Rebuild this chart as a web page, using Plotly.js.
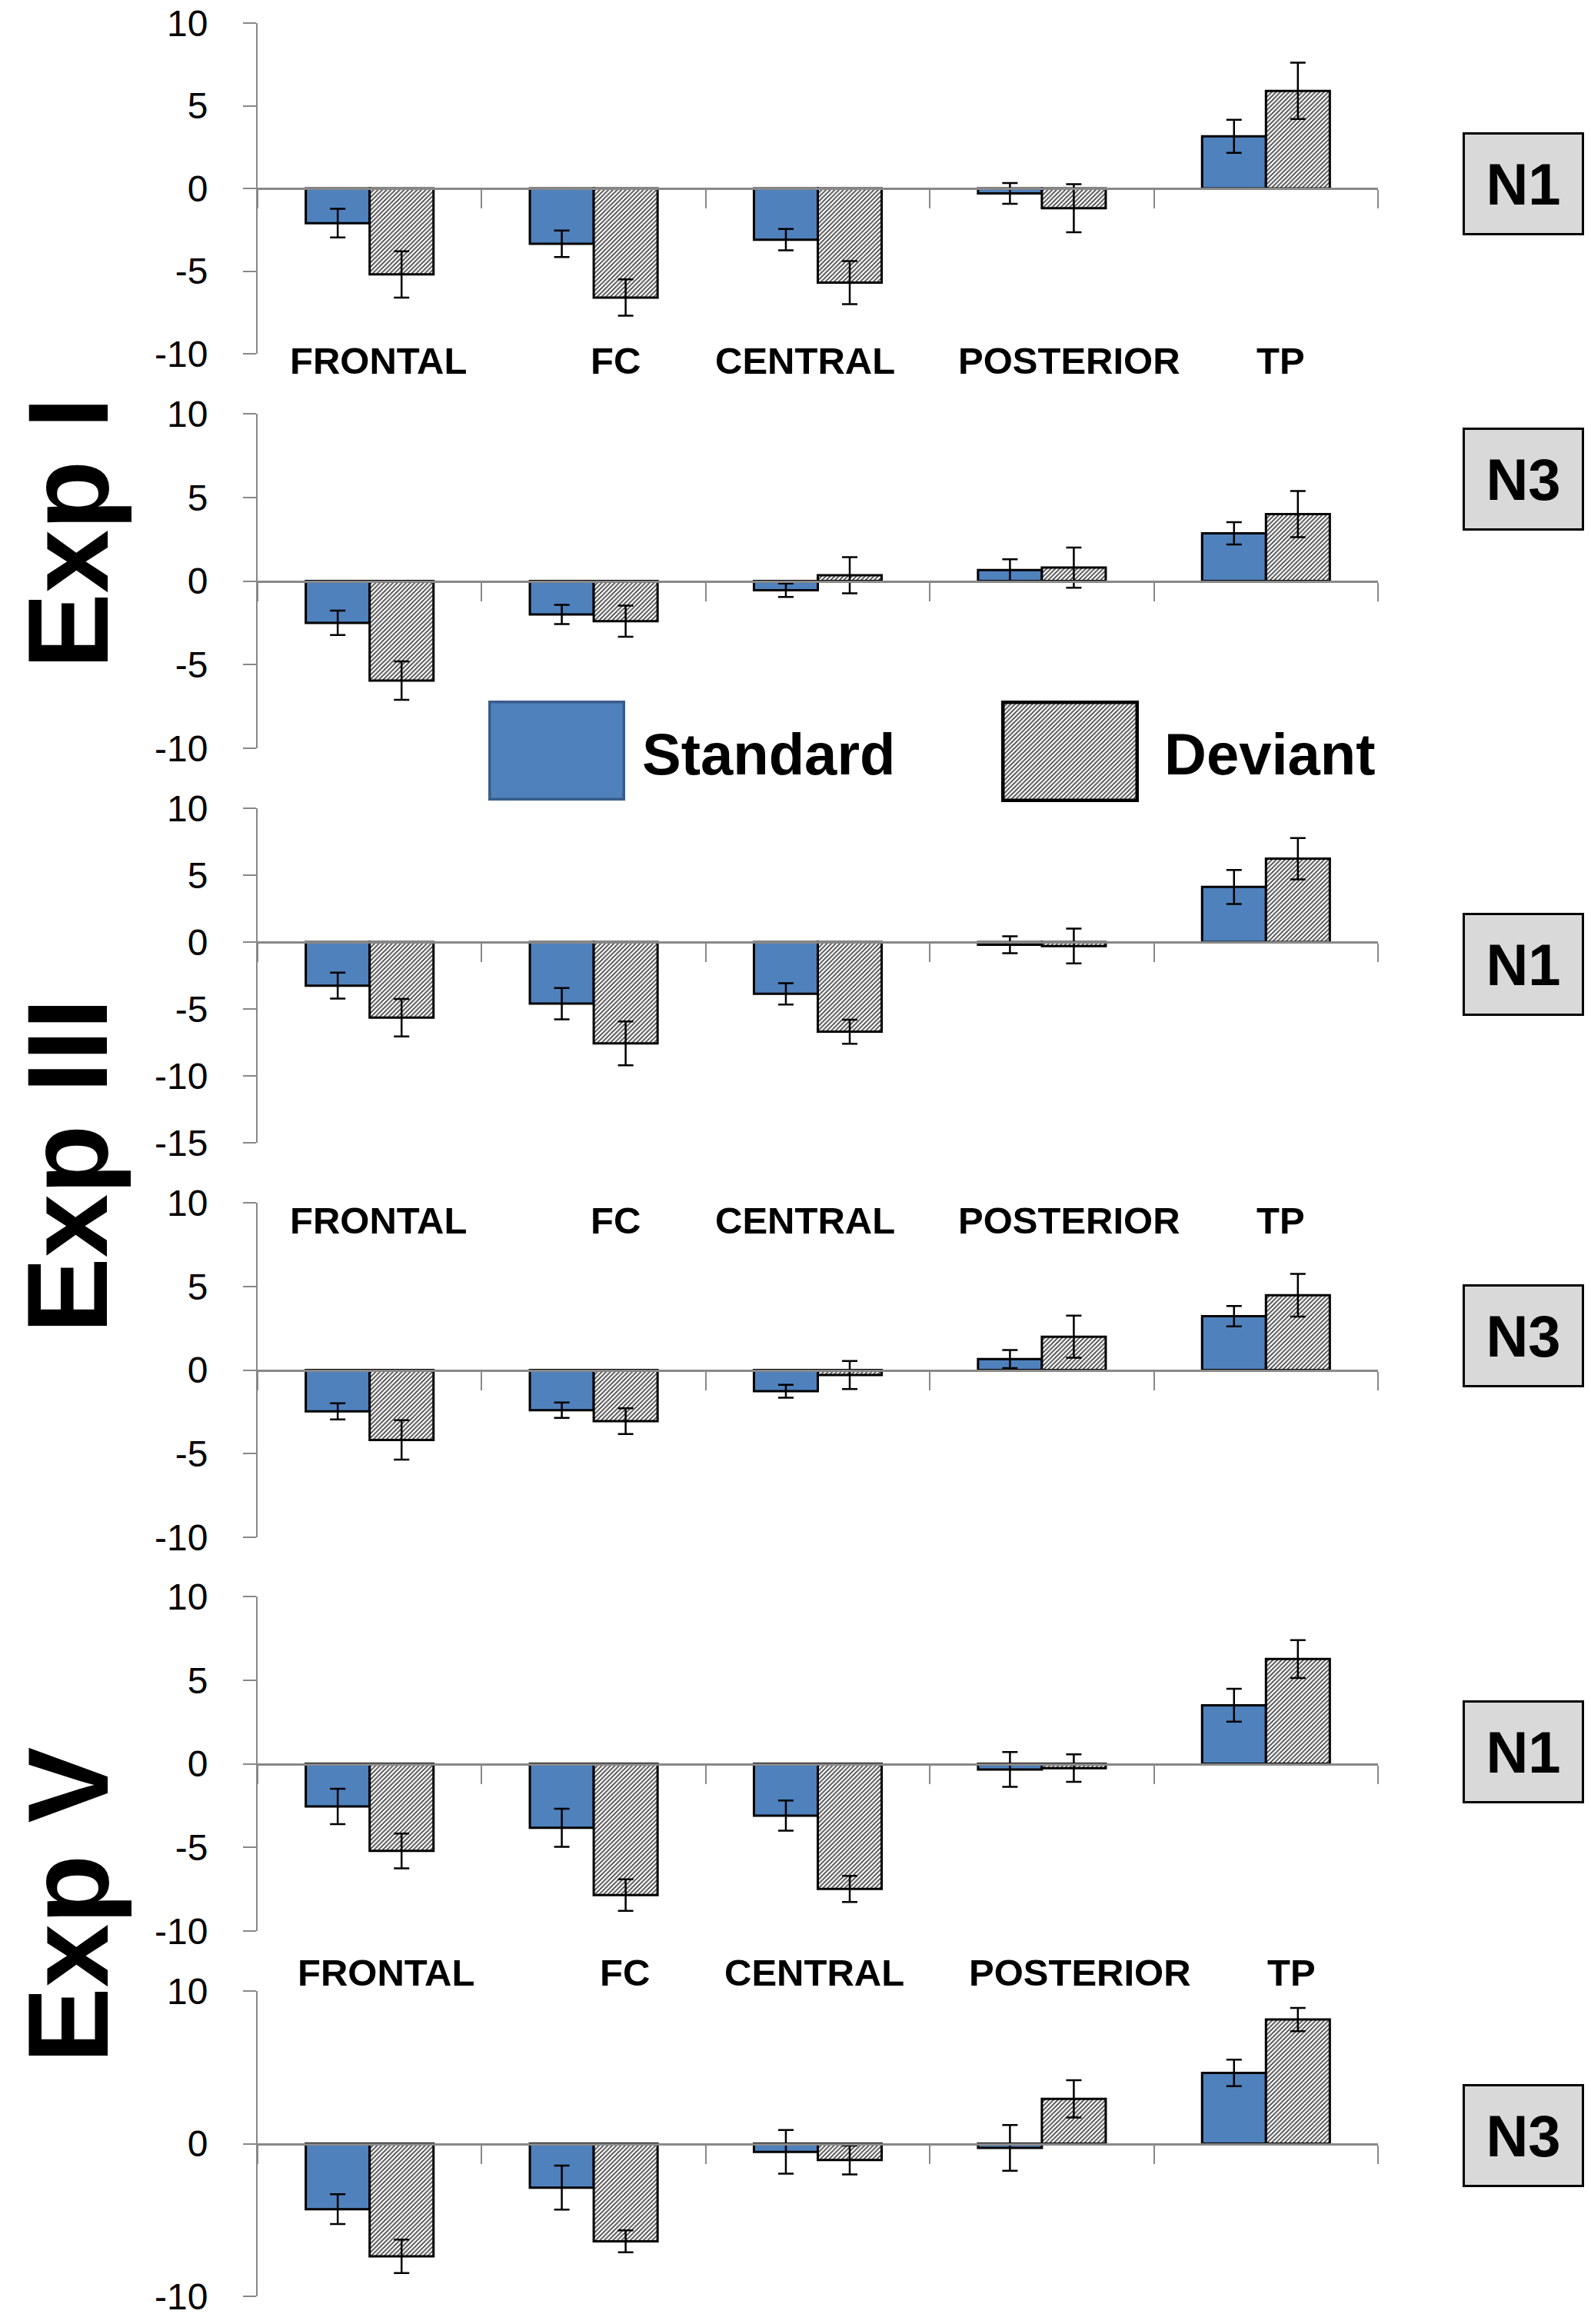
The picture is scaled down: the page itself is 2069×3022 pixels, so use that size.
<!DOCTYPE html>
<html>
<head>
<meta charset="utf-8">
<script src="https://cdn.plot.ly/plotly-3.0.1.min.js"></script>
<style>
  html, body { margin: 0; padding: 0; background: #fff; }
  #chart { width: 2069px; height: 3022px; }
</style>
</head>
<body>
<div id="chart"></div>
<script>
// regions on the x axis
var categories = ['FRONTAL', 'FC', 'CENTRAL', 'POSTERIOR', 'TP'];

// Exp I
var expI_N1_std = [-2.1, -3.35, -3.1, -0.3, 3.15];
var expI_N1_stdErr = [0.87, 0.8, 0.65, 0.63, 1.0];
var expI_N1_dev = [-5.2, -6.6, -5.7, -1.2, 5.9];
var expI_N1_devErr = [1.4, 1.1, 1.3, 1.45, 1.7];

var expI_N3_std = [-2.5, -2.0, -0.55, 0.65, 2.85];
var expI_N3_stdErr = [0.73, 0.57, 0.4, 0.65, 0.67];
var expI_N3_dev = [-5.95, -2.4, 0.35, 0.8, 4.0];
var expI_N3_devErr = [1.15, 0.93, 1.08, 1.2, 1.38];

// Exp III
var expIII_N1_std = [-3.26, -4.6, -3.87, -0.2, 4.12];
var expIII_N1_stdErr = [0.97, 1.17, 0.8, 0.63, 1.27];
var expIII_N1_dev = [-5.65, -7.57, -6.7, -0.3, 6.23];
var expIII_N1_devErr = [1.4, 1.64, 0.9, 1.3, 1.55];

var expIII_N3_std = [-2.47, -2.4, -1.27, 0.66, 3.22];
var expIII_N3_stdErr = [0.48, 0.46, 0.38, 0.54, 0.61];
var expIII_N3_dev = [-4.18, -3.06, -0.3, 1.99, 4.47];
var expIII_N3_devErr = [1.18, 0.77, 0.84, 1.26, 1.28];

// Exp V
var expV_N1_std = [-2.55, -3.83, -3.1, -0.34, 3.5];
var expV_N1_stdErr = [1.06, 1.14, 0.9, 1.04, 0.98];
var expV_N1_dev = [-5.21, -7.85, -7.48, -0.26, 6.26];
var expV_N1_devErr = [1.04, 0.94, 0.78, 0.82, 1.13];

var expV_N3_std = [-4.29, -2.88, -0.54, -0.28, 4.63];
var expV_N3_stdErr = [0.98, 1.44, 1.43, 1.5, 0.87];
var expV_N3_dev = [-7.38, -6.4, -1.07, 2.93, 8.13];
var expV_N3_devErr = [1.1, 0.72, 0.95, 1.22, 0.76];

var componentLabels = ['N1', 'N3', 'N1', 'N3', 'N1', 'N3'];
var expLabels = ['Exp I', 'Exp III', 'Exp V'];
var legendNames = ['Standard', 'Deviant'];

var W = 2069, H = 3022;
var BOLD = 'Liberation Sans, Arial, sans-serif';

function px(x) { return x / W; }
function py(y) { return 1 - y / H; }

// one entry per panel, top to bottom (pixel rows of the plot area)
var panels = [
  { std: expI_N1_std, stdErr: expI_N1_stdErr, dev: expI_N1_dev, devErr: expI_N1_devErr, range: [-10, 10], dtick: 5, top: 30, bottom: 460, box: [171, 306] },
  { std: expI_N3_std, stdErr: expI_N3_stdErr, dev: expI_N3_dev, devErr: expI_N3_devErr, range: [-10, 10], dtick: 5, top: 538, bottom: 973, box: [556, 689] },
  { std: expIII_N1_std, stdErr: expIII_N1_stdErr, dev: expIII_N1_dev, devErr: expIII_N1_devErr, range: [-15, 10], dtick: 5, top: 1051, bottom: 1486, box: [1188, 1320] },
  { std: expIII_N3_std, stdErr: expIII_N3_stdErr, dev: expIII_N3_dev, devErr: expIII_N3_devErr, range: [-10, 10], dtick: 5, top: 1564, bottom: 1999, box: [1671, 1803] },
  { std: expV_N1_std, stdErr: expV_N1_stdErr, dev: expV_N1_dev, devErr: expV_N1_devErr, range: [-10, 10], dtick: 5, top: 2076, bottom: 2511, box: [2212, 2344] },
  { std: expV_N3_std, stdErr: expV_N3_stdErr, dev: expV_N3_dev, devErr: expV_N3_devErr, range: [-10, 10], dtick: 10, top: 2589, bottom: 2986, box: [2710, 2843] }
];

var xDomain = [px(335), px(1792)];

var hatch = { shape: '/', fgcolor: '#444', bgcolor: '#fff', size: 4, solidity: 0.45 };
var stdMarker = { color: '#4F81BD', line: { color: '#000', width: 3 } };
var devMarker = { color: '#fff', pattern: hatch, line: { color: '#000', width: 3 } };
function errBars(arr) {
  return { type: 'data', array: arr, visible: true, color: '#000', thickness: 2.5, width: 10 };
}

var data = [];
var layout = {
  width: W, height: H,
  margin: { l: 0, r: 0, t: 0, b: 0 },
  paper_bgcolor: '#fff', plot_bgcolor: 'rgba(0,0,0,0)',
  showlegend: false,
  barmode: 'group', bargap: 0.43, bargroupgap: 0,
  annotations: [], shapes: []
};

panels.forEach(function(p, i) {
  var n = i + 1;
  var xa = 'x' + n, ya = 'y' + n;
  data.push({
    type: 'bar', name: 'Standard', x: categories, y: p.std,
    error_y: errBars(p.stdErr), marker: stdMarker, xaxis: xa, yaxis: ya
  });
  data.push({
    type: 'bar', name: 'Deviant', x: categories, y: p.dev,
    error_y: errBars(p.devErr), marker: devMarker, xaxis: xa, yaxis: ya
  });

  var d0 = py(p.bottom), d1 = py(p.top);
  // put the category axis on the zero line
  var zeroPos = d0 + (0 - p.range[0]) / (p.range[1] - p.range[0]) * (d1 - d0);

  // plain hyphen minus like the original, not the unicode minus
  var tv = [], tt = [];
  for (var v = p.range[0]; v <= p.range[1]; v += p.dtick) { tv.push(v); tt.push(String(v)); }

  layout['xaxis' + n] = {
    domain: xDomain, type: 'category', anchor: 'free', position: zeroPos,
    showline: true, linecolor: '#888', linewidth: 3,
    ticks: 'outside', tickson: 'boundaries', ticklen: 24, tickwidth: 2, tickcolor: '#888',
    showticklabels: false, showgrid: false, zeroline: false, fixedrange: true
  };
  layout['yaxis' + n] = {
    domain: [d0, d1], anchor: xa, range: p.range,
    tickmode: 'array', tickvals: tv, ticktext: tt,
    showline: true, linecolor: '#888', linewidth: 2,
    ticks: 'outside', ticklen: 17, tickwidth: 2, tickcolor: '#888',
    ticklabelstandoff: 36, ticklabeloverflow: 'allow',
    tickfont: { family: 'Liberation Sans, Arial, sans-serif', size: 48, color: '#000' },
    showgrid: false, zeroline: false, fixedrange: true
  };

  // N1 / N3 boxes on the right
  layout.annotations.push({
    xref: 'paper', yref: 'paper', x: px(1981), y: py((p.box[0] + p.box[1]) / 2),
    xanchor: 'center', yanchor: 'middle', showarrow: false,
    text: '<b>' + componentLabels[i] + '</b>',
    font: { family: BOLD, size: 76, color: '#000' },
    width: 150, height: 126, bgcolor: '#D9D9D9', bordercolor: '#000', borderwidth: 3
  });
});

// region names, written once per experiment
var labelRows = [
  { y: 469, xs: [492, 800, 1047, 1390, 1665] },
  { y: 1587, xs: [492, 800, 1047, 1390, 1665] },
  { y: 2565, xs: [502, 812, 1059, 1404, 1679] }
];
labelRows.forEach(function(row) {
  categories.forEach(function(c, j) {
    layout.annotations.push({
      xref: 'paper', yref: 'paper', x: px(row.xs[j]), y: py(row.y),
      xanchor: 'center', yanchor: 'middle', showarrow: false,
      text: '<b>' + c + '</b>', font: { family: BOLD, size: 49, color: '#000' }
    });
  });
});

// experiment names, rotated
var expY = [693, 1516, 2478];
expLabels.forEach(function(t, k) {
  layout.annotations.push({
    xref: 'paper', yref: 'paper', x: px(88), y: py(expY[k]),
    xanchor: 'center', yanchor: 'middle', showarrow: false, textangle: -90,
    text: '<b>' + t + '</b>', font: { family: BOLD, size: 148, color: '#000' }
  });
});

// legend swatches: one bar each on its own hidden axes
var swatches = [
  { x: [635, 813], y: [911, 1041], marker: { color: '#4F81BD', line: { color: '#385D8A', width: 7 } }, textX: 833 },
  { x: [1302, 1481], y: [911, 1043], marker: { color: '#fff', pattern: hatch, line: { color: '#000', width: 9 } }, textX: 1512 }
];
swatches.forEach(function(s, k) {
  var n = 7 + k;
  data.push({
    type: 'bar', name: legendNames[k], x: [0], y: [1], width: [1], marker: s.marker,
    cliponaxis: false, xaxis: 'x' + n, yaxis: 'y' + n, hoverinfo: 'skip'
  });
  layout['xaxis' + n] = { domain: [px(s.x[0]), px(s.x[1])], range: [-0.5, 0.5], visible: false, fixedrange: true, anchor: 'y' + n };
  layout['yaxis' + n] = { domain: [py(s.y[1]), py(s.y[0])], range: [0, 1], visible: false, fixedrange: true, anchor: 'x' + n };
  layout.annotations.push({
    xref: 'paper', yref: 'paper', x: px(s.textX), y: py(980),
    xanchor: 'left', yanchor: 'middle', showarrow: false,
    text: '<b>' + legendNames[k] + '</b>', font: { family: BOLD, size: 76, color: '#000' }
  });
});

Plotly.newPlot('chart', data, layout, { staticPlot: true });
</script>
</body>
</html>
